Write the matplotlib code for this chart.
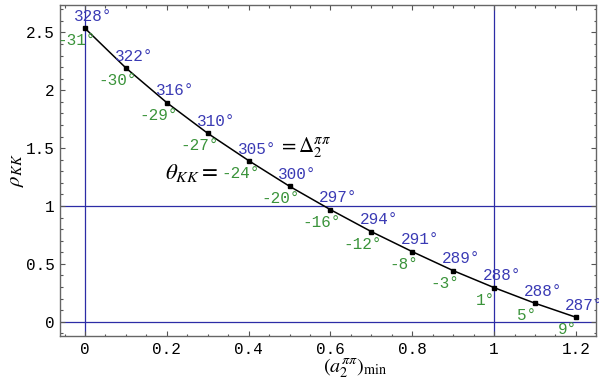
import matplotlib
matplotlib.use('Agg')
import matplotlib.pyplot as plt
from matplotlib.ticker import MultipleLocator
import numpy as np

# data
a2_min = [0.0, 0.1, 0.2, 0.3, 0.4, 0.5, 0.6, 0.7, 0.8, 0.9, 1.0, 1.1, 1.2]
rho_kk = [2.536, 2.193, 1.893, 1.628, 1.392, 1.170, 0.968, 0.778, 0.605, 0.441, 0.294, 0.159, 0.038]
delta2 = [328, 322, 316, 310, 305, 300, 297, 294, 291, 289, 288, 288, 287]
theta_kk = [-31, -30, -29, -27, -24, -20, -16, -12, -8, -3, 1, 5, 9]

blue = '#3a3ab4'
green = '#3a933a'
line_blue = '#2c2ca6'
mono = 'Liberation Mono'
fs = 11.5

plt.rcParams['mathtext.fontset'] = 'stix'

fig = plt.figure(figsize=(5.99, 3.81), dpi=100)
ax = fig.add_axes([60 / 599, 45 / 381, 536 / 599, 331 / 381])

ax.set_xlim(-0.061, 1.249)
ax.set_ylim(-0.124, 2.737)

# reference lines
for xv in (0, 1):
    ax.axvline(xv, color=line_blue, lw=0.9, zorder=1)
for yv in (0, 1):
    ax.axhline(yv, color=line_blue, lw=0.9, zorder=1)

ax.plot(a2_min, rho_kk, color='black', lw=1.1, marker='s', ms=2.2, zorder=3)

px = 0.72  # points per pixel at 100 dpi
for i, (x, y, d, t) in enumerate(zip(a2_min, rho_kk, delta2, theta_kk)):
    if i == 4:
        ax.annotate(f'{d}°', (x, y), xytext=(-11 * px, 11.5 * px), textcoords='offset points',
                    ha='left', va='center', color=blue, family=mono, fontsize=fs)
        ax.annotate(r'$=\Delta_2^{\pi\pi}$', (x, y), xytext=(29 * px, 13 * px), textcoords='offset points',
                    ha='left', va='center', color='black', fontsize=15)
        ax.annotate(f'{t}°', (x, y), xytext=(11 * px, -12.5 * px), textcoords='offset points',
                    ha='right', va='center', color=green, family=mono, fontsize=fs)
        ax.annotate(r'$\theta_{KK}=$', (x, y), xytext=(-30 * px, -11.5 * px), textcoords='offset points',
                    ha='right', va='center', color='black', fontsize=16.5)
        continue
    ax.annotate(f'{d}°', (x, y), xytext=(8 * px, 11.7 * px), textcoords='offset points',
                ha='center', va='center', color=blue, family=mono, fontsize=fs)
    ax.annotate(f'{t}°', (x, y), xytext=(-8.5 * px, -12.5 * px), textcoords='offset points',
                ha='center', va='center', color=green, family=mono, fontsize=fs)

# ticks
ax.xaxis.set_minor_locator(MultipleLocator(0.05))
ax.yaxis.set_minor_locator(MultipleLocator(0.1))
ax.set_xticks([0, 0.2, 0.4, 0.6, 0.8, 1.0, 1.2])
ax.set_xticklabels(['0', '0.2', '0.4', '0.6', '0.8', '1', '1.2'])
ax.set_yticks([0, 0.5, 1, 1.5, 2, 2.5])
ax.set_yticklabels(['0', '0.5', '1', '1.5', '2', '2.5'])
ax.tick_params(which='both', direction='in', top=True, right=True, color='#555555', width=0.8)
ax.tick_params(which='major', length=3.5, labelsize=fs, pad=4)
ax.tick_params(which='minor', length=1.8)
for lab in ax.get_xticklabels() + ax.get_yticklabels():
    lab.set_family(mono)
for sp in ax.spines.values():
    sp.set_color('#666666')
    sp.set_linewidth(1.0)

ax.set_xlabel(r'$(a_2^{\pi\pi})_{\rm min}$', fontsize=14.5)
ax.xaxis.set_label_coords(0.55, -0.062)
ax.set_ylabel(r'$\rho_{KK}$', fontsize=15)
ax.yaxis.set_label_coords(-0.064, 0.5)

fig.savefig('out.png', dpi=100)
